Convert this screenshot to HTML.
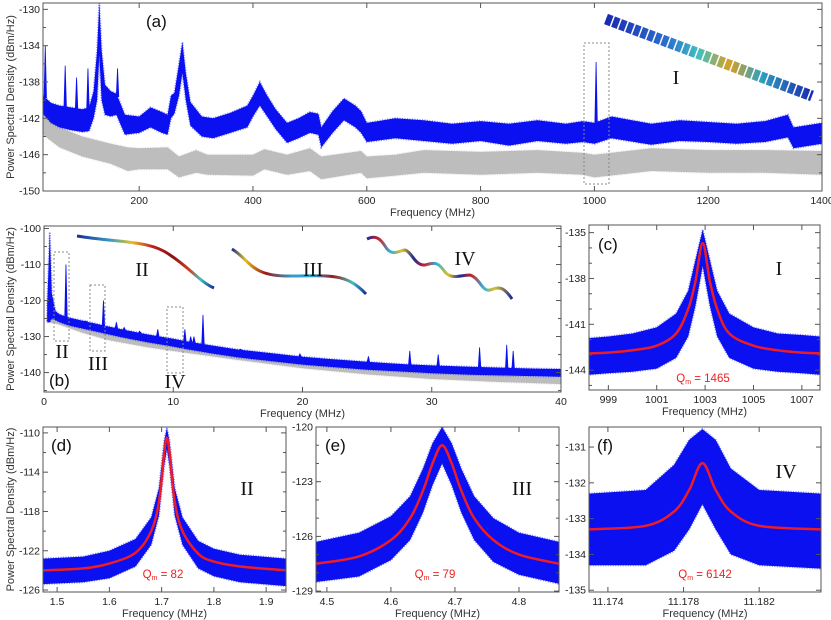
<!DOCTYPE html>
<html><head><meta charset="utf-8">
<style>
html,body{margin:0;padding:0;background:#fff;}
svg{display:block;font-family:"Liberation Sans",sans-serif;}
.tk{font-size:10.5px;fill:#222;}
.lab{font-size:11px;fill:#333;}
.pl{font-size:17px;fill:#111;}
.rom{font-family:"Liberation Serif",serif;font-size:20px;fill:#111;}
.q{font-size:11.5px;fill:#ee2222;}
</style></head>
<body>
<svg id="fig" width="831" height="620" viewBox="0 0 831 620">
<defs>
<linearGradient id="gII" x1="0" x2="1" y1="0" y2="0"><stop offset="0" stop-color="#1a2a9a"/><stop offset="0.25" stop-color="#3aa0c0"/><stop offset="0.4" stop-color="#e8c020"/><stop offset="0.55" stop-color="#c02020"/><stop offset="0.7" stop-color="#8a1010"/><stop offset="0.82" stop-color="#d04020"/><stop offset="0.9" stop-color="#40c0c0"/><stop offset="1" stop-color="#1a2a9a"/></linearGradient>
<linearGradient id="gIII" x1="0" x2="1" y1="0" y2="0"><stop offset="0" stop-color="#1a2a9a"/><stop offset="0.1" stop-color="#e0c020"/><stop offset="0.25" stop-color="#a01818"/><stop offset="0.45" stop-color="#30a0d0"/><stop offset="0.6" stop-color="#30a0d0"/><stop offset="0.75" stop-color="#a01818"/><stop offset="0.9" stop-color="#40c0c0"/><stop offset="1" stop-color="#1a2a9a"/></linearGradient>
<linearGradient id="gIV" x1="0" x2="1" y1="0" y2="0"><stop offset="0" stop-color="#1a2a9a"/><stop offset="0.08" stop-color="#d02020"/><stop offset="0.16" stop-color="#30b0e0"/><stop offset="0.24" stop-color="#e0c020"/><stop offset="0.32" stop-color="#1a2a9a"/><stop offset="0.4" stop-color="#d02020"/><stop offset="0.48" stop-color="#30b0e0"/><stop offset="0.56" stop-color="#e0c020"/><stop offset="0.64" stop-color="#1a2a9a"/><stop offset="0.72" stop-color="#d02020"/><stop offset="0.8" stop-color="#30b0e0"/><stop offset="0.88" stop-color="#e0c020"/><stop offset="1" stop-color="#1a2a9a"/></linearGradient>
<linearGradient id="gI" x1="0" x2="1" y1="0" y2="0"><stop offset="0" stop-color="#1a2ab0"/><stop offset="0.3" stop-color="#2a70d0"/><stop offset="0.45" stop-color="#40c0c0"/><stop offset="0.6" stop-color="#d8a020"/><stop offset="0.75" stop-color="#30a0c0"/><stop offset="1" stop-color="#1a2ab0"/></linearGradient>
</defs>
<g id="root"></g>
</svg>
<script>
// ---------- Panel (a) data ----------
const aBlueF  = [31,45,60,80,100,112,120,126,130,134,140,150,160,168,175,200,220,240,250,256,262,270,276,282,290,310,330,360,390,400,412,425,440,460,480,500,515,520,540,560,580,590,600,650,700,750,800,850,900,950,980,1000,1030,1100,1150,1200,1250,1300,1340,1350,1400];
const aBlueHi = [-139.5,-140.3,-140.6,-140.8,-141,-140.8,-139,-134.5,-129.3,-134.5,-138.3,-139,-139.3,-140.5,-141.6,-141.8,-140.8,-141.3,-141.6,-139.5,-139.2,-136,-133.6,-137,-140.2,-141.8,-142,-141.4,-140.6,-139.5,-138,-139.5,-141,-142.5,-142,-141.3,-141.5,-143,-141.2,-139.8,-140.6,-141.2,-142.5,-142,-142.2,-142.6,-142.3,-142.6,-142.2,-142.6,-142.3,-142.5,-141.8,-142.6,-142.2,-142.4,-142.6,-142.3,-141.6,-143,-142.5];
const aBlueLo = [-141.5,-142.5,-143,-143.3,-143.5,-143.4,-142,-140,-135,-140,-141.6,-141.8,-141.6,-142.8,-143.8,-143.6,-143,-143.6,-143.8,-142,-141.5,-139.5,-137,-140,-142.8,-144,-144.2,-143.6,-143,-141.8,-140.6,-141.8,-143.2,-144.7,-144.2,-143.6,-143.8,-145.2,-143.6,-142.2,-143,-143.6,-144.6,-144.2,-144.5,-144.8,-144.5,-145,-144.5,-144.8,-144.6,-144.8,-144.2,-144.9,-144.5,-144.6,-144.8,-144.6,-144.1,-145.3,-144.8];
const aGreyF  = [31,60,100,150,180,200,250,270,300,320,400,420,460,500,520,590,600,650,700,800,900,980,1000,1100,1200,1300,1400];
const aGreyHi = [-141.5,-143,-144,-144.8,-145.2,-145.3,-145.2,-146.2,-145.5,-146,-146,-145.4,-146,-145.3,-146.2,-145.6,-146.2,-146,-145.5,-145.7,-145.5,-145.8,-146,-145.3,-145.5,-145.5,-145.6];
const aGreyLo = [-143.8,-145.2,-146.2,-147,-147.8,-147.6,-147.6,-148.5,-148,-148.2,-148.3,-147.6,-148.2,-147.8,-148.7,-148,-148.6,-148.3,-148,-148.2,-148,-148.2,-148.5,-147.8,-148,-148,-148.2];
const aSpikeF = [35,70,90,110,162,1003];
const aSpikeV = [-134,-136.2,-137.5,-136.5,-136.5,-135.8];
const aXTicks = [200,400,600,800,1000,1200,1400];
const aYTicks = [-130,-134,-138,-142,-146,-150];

// ---------- Panel (b) data ----------
const bBlueF  = [0.25,0.45,0.6,0.9,1.2,1.5,2,3,4,5,6,8,10,11,12,13,15,18,20,22,25,28,30,33,35,38,40];
const bBlueHi = [-121,-101,-118,-123,-123.8,-124.2,-124.8,-125.6,-126.4,-127.2,-128,-129.4,-130.6,-131.3,-131.9,-132.5,-133.6,-134.8,-135.6,-136.2,-137,-137.7,-138,-138.4,-138.6,-138.9,-139];
const bBlueLo = [-126,-126,-125,-125.5,-126,-126.4,-127,-127.8,-128.6,-129.4,-130.2,-131.6,-132.8,-133.5,-134.1,-134.7,-135.8,-137,-137.8,-138.4,-139.2,-139.8,-140.2,-140.6,-140.8,-141,-141.2];
const bGreyF  = [0.25,1,3,5,8,10,15,20,25,30,35,40];
const bGreyHi = [-123.5,-124.5,-127,-129,-130.8,-131.8,-134.5,-136.8,-138.6,-140,-140.8,-141.4];
const bGreyLo = [-126,-126.5,-129,-131,-133,-134,-136.5,-138.8,-140.5,-141.8,-142.6,-143.2];
const bSpikeF = [1.7,3.2,4.6,5.6,6.2,7.4,8.8,10.9,11.35,11.6,12.3,15.2,19.8,25.1,28.3,30.5,33.7,35.8,36.3];
const bSpikeV = [-110,-126,-120,-126,-127.5,-128.5,-128,-128,-130,-130,-124,-133.5,-134.8,-135.5,-134,-135,-133,-132.3,-134];
const bXTicks = [0,10,20,30,40];
const bYTicks = [-100,-110,-120,-130,-140];

// ---------- Panel (c) data ----------
const cF   = [998.2,999,1000,1001,1001.8,1002.3,1002.6,1002.9,1003.2,1003.5,1004,1005,1006,1007,1007.75];
const cFit = [-142.9,-142.85,-142.7,-142.4,-141.6,-140,-138.2,-135.7,-138.2,-140,-141.6,-142.4,-142.7,-142.85,-142.9];
const cHi  = [-141.9,-141.8,-141.6,-141.2,-140.3,-138.8,-136.8,-134.8,-136.8,-138.8,-140.3,-141.2,-141.6,-141.7,-141.8];
const cLo  = [-144.3,-144.2,-144.1,-143.9,-143.2,-141.8,-139.8,-137.2,-139.8,-141.8,-143.2,-143.9,-144.1,-144.2,-144.3];
const cXTicks = [999,1001,1003,1005,1007];
const cYTicks = [-135,-138,-141,-144];

// ---------- Panel (d) data ----------
const dF   = [1.473,1.55,1.6,1.65,1.68,1.695,1.705,1.71,1.715,1.725,1.74,1.77,1.8,1.85,1.938];
const dFit = [-124.0,-123.8,-123.3,-122.2,-120,-117,-112,-110.5,-112,-117,-120,-122.3,-123.1,-123.6,-124.0];
const dHi  = [-122.8,-122.6,-122,-120.8,-118.6,-115.6,-110.8,-109.5,-110.8,-115.6,-118.6,-121,-121.8,-122.4,-122.8];
const dLo  = [-125.4,-125.2,-124.8,-123.6,-121.4,-118.4,-113.4,-111.6,-113.4,-118.4,-121.4,-123.8,-124.6,-125.2,-125.6];
const dXTicks = [1.5,1.6,1.7,1.8,1.9];
const dYTicks = [-110,-114,-118,-122,-126];

// ---------- Panel (e) data ----------
const eF   = [4.483,4.55,4.6,4.63,4.65,4.665,4.68,4.695,4.71,4.73,4.76,4.8,4.8625];
const eFit = [-127.5,-127.1,-126.2,-125,-123.5,-122,-121,-122,-123.5,-125,-126.2,-127,-127.5];
const eHi  = [-126.3,-125.8,-124.9,-123.8,-122.3,-120.9,-120,-120.9,-122.3,-123.8,-125,-125.8,-126.3];
const eLo  = [-128.5,-128.2,-127.3,-126.2,-124.7,-123.2,-122,-123.2,-124.7,-126.2,-127.4,-128.1,-128.6];
const eXTicks = [4.5,4.6,4.7,4.8];
const eYTicks = [-120,-123,-126,-129];

// ---------- Panel (f) data ----------
const fF   = [11.173,11.176,11.1775,11.1783,11.179,11.1797,11.1805,11.182,11.1853];
const fFit = [-133.3,-133.2,-132.8,-132.2,-131.45,-132.2,-132.8,-133.2,-133.3];
const fHi  = [-132.3,-132.2,-131.5,-130.8,-130.5,-130.8,-131.6,-132.2,-132.3];
const fLo  = [-134.3,-134.3,-133.9,-133.3,-132.6,-133.3,-134,-134.3,-134.4];
const fXTicks = [11.174,11.178,11.182];
const fYTicks = [-131,-132,-133,-134,-135];

const NS = "http://www.w3.org/2000/svg";
const root = document.getElementById('root');
function mk(tag, attrs, parent){ const e=document.createElementNS(NS,tag); for(const k in attrs) e.setAttribute(k,attrs[k]); (parent||root).appendChild(e); return e; }
function scale(d0,d1,p0,p1){ return v => p0+(v-d0)*(p1-p0)/(d1-d0); }

function panel(name, box, xd, yd){
  const g=mk('g',{});
  
  
  return {g, box, x:scale(xd[0],xd[1],box[0],box[2]), y:scale(yd[0],yd[1],box[3],box[1])};
}
function clip(P,id){ const c=mk('clipPath',{id:id},P.g); mk('rect',{x:P.box[0],y:P.box[1],width:P.box[2]-P.box[0],height:P.box[3]-P.box[1]},c); return 'url(#'+id+')'; }
function band(P, xs, hi, lo, color, nm, cp){
  let d='M'+xs.map((v,i)=>P.x(v).toFixed(1)+','+P.y(hi[i]).toFixed(1)).join('L');
  for(let i=xs.length-1;i>=0;i--) d+='L'+P.x(xs[i]).toFixed(1)+','+P.y(lo[i]).toFixed(1);
  const p=mk('path',{d:d+'Z',fill:color,stroke:color,'stroke-opacity':0.5,'stroke-width':2,'stroke-dasharray':'1 1.5','clip-path':cp},P.g);
  
  
}
function spikes(P, xs, vs, hiF, hiV, color, nm){
  xs.forEach((f,i)=>{
    let base=hiV[0]; for(let k=0;k<hiF.length-1;k++){ if(f>=hiF[k]&&f<=hiF[k+1]){ const t=(f-hiF[k])/(hiF[k+1]-hiF[k]); base=hiV[k]+t*(hiV[k+1]-hiV[k]); } }
    const l=mk('path',{d:`M${P.x(f)-1.2},${P.y(base)}L${P.x(f)},${P.y(vs[i])}L${P.x(f)+1.2},${P.y(base)}Z`,fill:color,stroke:color,'stroke-width':0.8},P.g);
    
    
  });
}
function smooth(P, xs, ys, color, w, nm, cp){
  const pts=xs.map((v,i)=>[P.x(v),P.y(ys[i])]);
  let d='M'+pts[0][0]+','+pts[0][1];
  for(let i=0;i<pts.length-1;i++){
    const p0=pts[Math.max(0,i-1)],p1=pts[i],p2=pts[i+1],p3=pts[Math.min(pts.length-1,i+2)];
    const c1=[p1[0]+(p2[0]-p0[0])/6,p1[1]+(p2[1]-p0[1])/6], c2=[p2[0]-(p3[0]-p1[0])/6,p2[1]-(p3[1]-p1[1])/6];
    d+=`C${c1[0].toFixed(1)},${c1[1].toFixed(1)} ${c2[0].toFixed(1)},${c2[1].toFixed(1)} ${p2[0].toFixed(1)},${p2[1].toFixed(1)}`;
  }
  const p=mk('path',{d:d,fill:'none',stroke:color,'stroke-width':w,'clip-path':cp},P.g);
  
  
}
function axes(P, xt, yt, xfmt, yfmt, xlabel, ylabel, minorY){
  const [x0,y0,x1,y1]=P.box;
  const fr=mk('rect',{x:x0,y:y0,width:x1-x0,height:y1-y0,fill:'none',stroke:'#555','stroke-width':1},P.g);
  
  
  xt.forEach(v=>{ const X=P.x(v);
    mk('line',{x1:X,x2:X,y1:y1,y2:y1-5,stroke:'#555'},P.g); mk('line',{x1:X,x2:X,y1:y0,y2:y0+5,stroke:'#555'},P.g);
    const t=mk('text',{x:X,y:y1+13,'text-anchor':'middle',class:'tk'},P.g); t.textContent=xfmt(v);
    
    
  });
  yt.forEach(v=>{ const Y=P.y(v);
    mk('line',{x1:x0,x2:x0+5,y1:Y,y2:Y,stroke:'#555'},P.g); mk('line',{x1:x1,x2:x1-5,y1:Y,y2:Y,stroke:'#555'},P.g);
    const t=mk('text',{x:x0-3,y:Y+3.5,'text-anchor':'end',class:'tk'},P.g); t.textContent=yfmt(v);
    
    
  });
  if(minorY){ minorY.forEach(v=>{const Y=P.y(v); mk('line',{x1:x0,x2:x0+3,y1:Y,y2:Y,stroke:'#555'},P.g); mk('line',{x1:x1,x2:x1-3,y1:Y,y2:Y,stroke:'#555'},P.g);}); }
  const xl=mk('text',{x:(x0+x1)/2,y:y1+25,'text-anchor':'middle',class:'lab'},P.g); xl.textContent=xlabel;
  
  
  if(ylabel){ const cy=(y0+y1)/2; const yl=mk('text',{x:14,y:cy,'text-anchor':'middle',class:'lab',transform:`rotate(-90 14 ${cy})`},P.g); yl.textContent=ylabel;
    
     }
}
function txt(P,x,y,s,cls,nm,anchor){ const t=mk('text',{x:x,y:y,class:cls,'text-anchor':anchor||'start'},P.g); t.textContent=s;
  
   return t; }
function qlab(P,x,y,val,nm){ const t=mk('text',{x:x,y:y,class:'q','text-anchor':'middle'},P.g);
  
  
  const a=mk('tspan',{},t); a.textContent='Q';
  const b=mk('tspan',{'font-size':'7px',dy:'2'},t); b.textContent='m';
  const c=mk('tspan',{dy:'-2'},t); c.textContent=' = '+val; }
function dbox(P,x0,y0,x1,y1,nm){ const r=mk('rect',{x:x0,y:y0,width:x1-x0,height:y1-y0,fill:'none',stroke:'#888','stroke-width':1,'stroke-dasharray':'2 2'},P.g);
  
   }
const BLUE='#0a10f0', GREY='#bdbdbd', RED='#ee1c24';
const YL='Power Spectral Density (dBm/Hz)';

// (a)
const A=panel('panel-a',[43,3,822,191],[31,1400],[-150,-129.3]);
const ca=clip(A,'ca');
band(A,aGreyF,aGreyHi,aGreyLo,GREY,'background-noise-trace',ca);
band(A,aBlueF,aBlueHi,aBlueLo,BLUE,'psd-trace',ca);
spikes(A,aSpikeF,aSpikeV,aBlueF,aBlueHi,BLUE,'psd-spike');
axes(A,aXTicks,aYTicks,v=>String(v),v=>String(v),'Frequency (MHz)',YL,[-132,-136,-140,-144,-148]);
txt(A,146,27,'(a)','pl','panel-label-a');
dbox(A,584,43,609,184,'mode-i-box');
const hel=mk('path',{d:'M606,19 L812,96',fill:'none',stroke:'url(#gI)','stroke-width':11,'stroke-dasharray':'6 1.5'},A.g);
 
txt(A,676,84,'I','rom','mode-i-label','middle');

// (b)
const B=panel('panel-b',[44,226,561,392],[0,40],[-145.4,-99.3]);
const cb=clip(B,'cb');
band(B,bGreyF,bGreyHi,bGreyLo,GREY,'background-noise-trace',cb);
band(B,bBlueF,bBlueHi,bBlueLo,BLUE,'psd-trace',cb);
spikes(B,bSpikeF,bSpikeV,bBlueF,bBlueHi,BLUE,'psd-spike');
axes(B,bXTicks,bYTicks,v=>String(v),v=>String(v),'Frequency (MHz)',YL,[-105,-115,-125,-135,-145]);
txt(B,49,386,'(b)','pl','panel-label-b');
dbox(B,54,252,69,341,'mode-ii-box'); dbox(B,90,285,105,351,'mode-iii-box'); dbox(B,167,307,183,373,'mode-iv-box');
txt(B,62,358,'II','rom','mode-ii-box-label','middle'); txt(B,98,370,'III','rom','mode-iii-box-label','middle'); txt(B,175,388,'IV','rom','mode-iv-box-label','middle');
const s2=mk('path',{d:'M77,236 C120,243 150,240 170,255 C190,268 200,282 214,288',fill:'none',stroke:'url(#gII)','stroke-width':3},B.g);
 
const s3=mk('path',{d:'M232,249 C250,260 250,275 285,276 C330,276 345,272 366,294',fill:'none',stroke:'url(#gIII)','stroke-width':3},B.g);
 
const s4=mk('path',{d:'M367,239 C375,235 380,238 385,246 C392,258 400,250 405,250 C412,252 415,266 425,265 C435,262 438,262 445,272 C452,280 460,275 470,275 C480,278 482,292 490,290 C497,288 502,284 512,299',fill:'none',stroke:'url(#gIV)','stroke-width':3},B.g);
 
txt(B,142,276,'II','rom','mode-ii-label','middle'); txt(B,313,276,'III','rom','mode-iii-label','middle'); txt(B,465,265,'IV','rom','mode-iv-label','middle');

// (c)
const C=panel('panel-c',[589,225,820,390],[998.2,1007.75],[-145.3,-134.5]);
const cc=clip(C,'cc');
band(C,cF,cHi,cLo,BLUE,'psd-trace',cc);
smooth(C,cF,cFit,RED,2.5,'lorentzian-fit',cc);
axes(C,cXTicks,cYTicks,v=>String(v),v=>String(v),'Frequency (MHz)',null,[-136,-137,-139,-140,-142,-143,-145]);
txt(C,598,250,'(c)','pl','panel-label-c'); txt(C,779,275,'I','rom','mode-i-label','middle');
qlab(C,703,382,'1465','q-factor-label');

// (d)
const D=panel('panel-d',[43,427,286,592],[1.473,1.938],[-126.2,-109.4]);
const cd=clip(D,'cd');
band(D,dF,dHi,dLo,BLUE,'psd-trace',cd);
smooth(D,dF,dFit,RED,2.5,'lorentzian-fit',cd);
axes(D,dXTicks,dYTicks,v=>v.toFixed(1),v=>String(v),'Frequency (MHz)',YL,[-112,-116,-120,-124]);
txt(D,51,451,'(d)','pl','panel-label-d'); txt(D,247,495,'II','rom','mode-ii-label','middle');
qlab(D,163,578,'82','q-factor-label');

// (e)
const E=panel('panel-e',[316,427,559,592],[4.483,4.8625],[-129.05,-120]);
const ce=clip(E,'ce');
band(E,eF,eHi,eLo,BLUE,'psd-trace',ce);
smooth(E,eF,eFit,RED,2.5,'lorentzian-fit',ce);
axes(E,eXTicks,eYTicks,v=>v.toFixed(1),v=>String(v),'Frequency (MHz)',null,[-121,-122,-124,-125,-127,-128]);
txt(E,325,451,'(e)','pl','panel-label-e'); txt(E,522,495,'III','rom','mode-iii-label','middle');
qlab(E,435,578,'79','q-factor-label');

// (f)
const F=panel('panel-f',[589,427,821,592],[11.173,11.18527],[-135.05,-130.44]);
const cf=clip(F,'cf');
band(F,fF,fHi,fLo,BLUE,'psd-trace',cf);
smooth(F,fF,fFit,RED,2.5,'lorentzian-fit',cf);
axes(F,fXTicks,fYTicks,v=>v.toFixed(3),v=>String(v),'Frequency (MHz)',null,null);
txt(F,597,451,'(f)','pl','panel-label-f'); txt(F,786,478,'IV','rom','mode-iv-label','middle');
qlab(F,705,578,'6142','q-factor-label');
</script>
</body></html>
